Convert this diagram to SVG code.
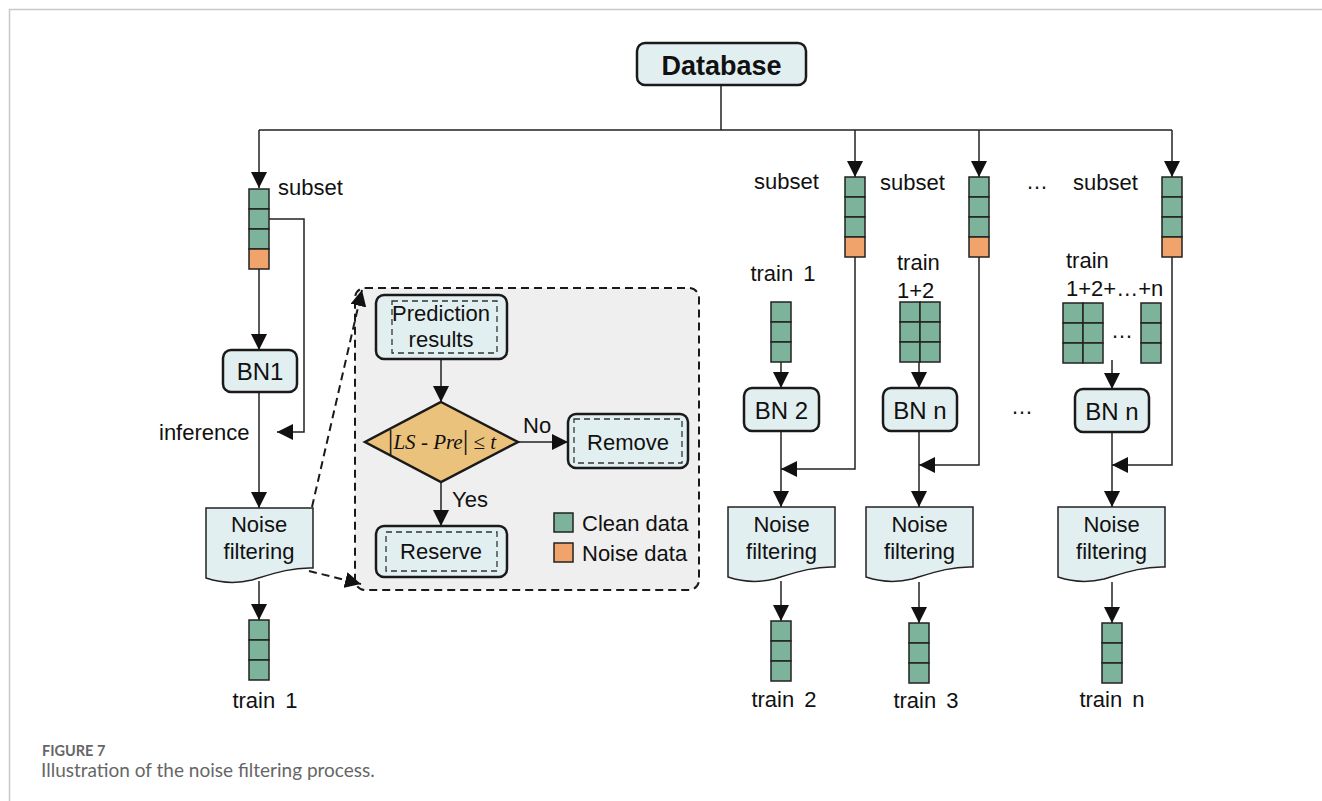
<svg xmlns="http://www.w3.org/2000/svg" width="1322" height="801" viewBox="0 0 1322 801">
  <style>
    .lbl { font-family: "Liberation Sans", Arial, sans-serif; font-size: 22px; fill: #111; }
    .big { font-size: 24px; }
    .mid { text-anchor: middle; }
    .box { fill: #e2eff0; stroke: #1a1a1a; stroke-width: 2.5; }
    .inner { fill: none; stroke: #333; stroke-width: 1.3; stroke-dasharray: 6 4; }
    .doc { fill: #e2eff0; stroke: #222; stroke-width: 1.5; }
    .cg { fill: #7db39b; stroke: #222; stroke-width: 1.5; }
    .co { fill: #f0a46c; stroke: #222; stroke-width: 1.5; }
    .wire { fill: none; stroke: #222; stroke-width: 1.5; }
    .arr { marker-end: url(#head); }
    .zoom { fill: none; stroke: #1a1a1a; stroke-width: 2; stroke-dasharray: 8 5; marker-end: url(#head); }
    .cap { font-family: Lato, "Open Sans", sans-serif; fill: #666; }
  </style>
  <defs>
    <marker id="head" viewBox="0 0 16 16" refX="16" refY="8" markerWidth="16" markerHeight="16" markerUnits="userSpaceOnUse" orient="auto">
      <path d="M0,0 L16,8 L0,16 Z" fill="#111"/>
    </marker>
    <!-- data column: three clean cells and one noisy cell -->
    <g id="stack4">
      <rect class="cg" x="0" y="0" width="20" height="20"/>
      <rect class="cg" x="0" y="20" width="20" height="20"/>
      <rect class="cg" x="0" y="40" width="20" height="20"/>
      <rect class="co" x="0" y="60" width="20" height="20"/>
    </g>
    <!-- clean training column -->
    <g id="stack3">
      <rect class="cg" x="0" y="0" width="20" height="20"/>
      <rect class="cg" x="0" y="20" width="20" height="20"/>
      <rect class="cg" x="0" y="40" width="20" height="20"/>
    </g>
    <g id="stack3x2">
      <use href="#stack3"/>
      <use href="#stack3" x="20"/>
    </g>
    <!-- document shape with a wavy bottom edge, 107 wide -->
    <path id="docshape" d="M0,0 H107 V60 C86,59 66,66 46,72 C30,76 15,75 0,70 Z"/>
  </defs>

  <rect width="1322" height="801" fill="#fff"/>
  <!-- frame -->
  <path d="M9.5,801 V9.5 H1322" fill="none" stroke="#c8c8c8" stroke-width="1.5"/>

  <!-- filtering rule panel background -->
  <g id="panel">
    <rect x="355" y="288" width="344" height="302" rx="10" fill="#efefef" stroke="#1a1a1a" stroke-width="2" stroke-dasharray="8 5"/>
  </g>

  <!-- connectors -->
  <g id="connectors">
    <path class="wire" d="M721,85 V130 M259,130 H1172"/>
    <path class="wire arr" d="M259,130 V188"/>
    <path class="wire arr" d="M855,130 V177"/>
    <path class="wire arr" d="M979,130 V177"/>
    <path class="wire arr" d="M1172,130 V177"/>
    <!-- first branch -->
    <path class="wire arr" d="M259,269 V350"/>
    <path class="wire arr" d="M269,219 H304 V432 H277"/>
    <path class="wire arr" d="M259,392 V508"/>
    <path class="wire arr" d="M259,581 V620"/>
    <path class="zoom" d="M312,507 L362,290"/>
    <path class="zoom" d="M309,571 L361,584"/>
    <!-- filtering panel -->
    <path class="wire arr" d="M441,359 V402"/>
    <path class="wire arr" d="M518,442 H568"/>
    <path class="wire arr" d="M441,482 V526"/>
    <!-- branch 2 -->
    <path class="wire arr" d="M781,362 V388"/>
    <path class="wire arr" d="M781,431 V507"/>
    <path class="wire arr" d="M855,257 V469 H781"/>
    <path class="wire arr" d="M781,581 V621"/>
    <!-- branch 3 -->
    <path class="wire arr" d="M919,362 V388"/>
    <path class="wire arr" d="M919,431 V507"/>
    <path class="wire arr" d="M979,256 V465 H919"/>
    <path class="wire arr" d="M919,582 V623"/>
    <!-- branch n -->
    <path class="wire arr" d="M1112,360 V389"/>
    <path class="wire arr" d="M1112,432 V507"/>
    <path class="wire arr" d="M1172,256 V465 H1112"/>
    <path class="wire arr" d="M1112,582 V623"/>
  </g>

  <g id="database">
    <rect class="box" x="637" y="43" width="169" height="42" rx="8"/>
    <text class="lbl mid" x="721.5" y="75" style="font-size:27px;font-weight:bold">Database</text>
  </g>

  <!-- first branch -->
  <g id="subset1">
    <use href="#stack4" x="249" y="189"/>
    <text class="lbl" x="278" y="195">subset</text>
  </g>
  <g id="bn1">
    <rect class="box" x="223" y="350" width="74" height="42" rx="8"/>
    <text class="lbl big mid" x="260" y="380">BN1</text>
  </g>
  <text class="lbl" x="159" y="440">inference</text>
  <g id="filter1">
    <use href="#docshape" x="206" y="508" class="doc"/>
    <text class="lbl mid" x="259" y="532">Noise</text>
    <text class="lbl mid" x="259" y="559">filtering</text>
  </g>
  <g id="train1">
    <use href="#stack3" x="249" y="620"/>
    <text class="lbl mid" x="265" y="708" word-spacing="4">train 1</text>
  </g>

  <!-- filtering rule -->
  <g id="prediction">
    <rect class="box" x="376" y="295" width="131" height="64" rx="8"/>
    <rect class="inner" x="392" y="301" width="105" height="52"/>
    <text class="lbl mid" x="441" y="321">Prediction</text>
    <text class="lbl mid" x="441" y="347">results</text>
  </g>
  <g id="decision">
    <polygon points="441,402 518,442 441,482 365,442" fill="#ebc27b" stroke="#1a1a1a" stroke-width="2.5"/>
    <text x="442" y="449" text-anchor="middle" font-family="'Liberation Serif', 'Times New Roman', serif" font-size="21" fill="#111"><tspan font-size="28">|</tspan><tspan font-style="italic">LS</tspan> - <tspan font-style="italic">Pre</tspan><tspan font-size="28">|</tspan> ≤ <tspan font-style="italic">t</tspan></text>
  </g>
  <text class="lbl" x="523" y="433">No</text>
  <text class="lbl" x="452" y="507">Yes</text>
  <g id="remove">
    <rect class="box" x="568" y="414" width="120" height="54" rx="8"/>
    <rect class="inner" x="574" y="419" width="108" height="44"/>
    <text class="lbl mid" x="628" y="450">Remove</text>
  </g>
  <g id="reserve">
    <rect class="box" x="376" y="526" width="131" height="51" rx="8"/>
    <rect class="inner" x="386" y="532" width="111" height="39"/>
    <text class="lbl mid" x="441" y="559">Reserve</text>
  </g>
  <g id="legend">
    <rect class="cg" x="554" y="513" width="19" height="19"/>
    <text class="lbl" x="582" y="531">Clean data</text>
    <rect class="co" x="554" y="543" width="19" height="19"/>
    <text class="lbl" x="582" y="561">Noise data</text>
  </g>

  <!-- branch 2 -->
  <g id="subset2">
    <use href="#stack4" x="845" y="177"/>
    <text class="lbl" x="754" y="189">subset</text>
  </g>
  <g id="input2">
    <text class="lbl mid" x="783" y="281" word-spacing="4">train 1</text>
    <use href="#stack3" x="771" y="302"/>
  </g>
  <g id="bn2">
    <rect class="box" x="744" y="388" width="75" height="43" rx="8"/>
    <text class="lbl big mid" x="781.5" y="419">BN 2</text>
  </g>
  <g id="filter2">
    <use href="#docshape" x="728" y="507" class="doc"/>
    <text class="lbl mid" x="781.5" y="532">Noise</text>
    <text class="lbl mid" x="781.5" y="559">filtering</text>
  </g>
  <g id="train2">
    <use href="#stack3" x="771" y="621"/>
    <text class="lbl mid" x="784" y="707" word-spacing="4">train 2</text>
  </g>

  <!-- branch 3 -->
  <g id="subset3">
    <use href="#stack4" x="969" y="177"/>
    <text class="lbl" x="880" y="190">subset</text>
  </g>
  <g id="input3">
    <text class="lbl" x="897" y="270">train</text>
    <text class="lbl" x="897" y="298">1+2</text>
    <use href="#stack3x2" x="900" y="302"/>
  </g>
  <g id="bn3">
    <rect class="box" x="883" y="388" width="74" height="43" rx="8"/>
    <text class="lbl big mid" x="920" y="419">BN n</text>
  </g>
  <g id="filter3">
    <use href="#docshape" x="866" y="507" class="doc"/>
    <text class="lbl mid" x="919.5" y="532">Noise</text>
    <text class="lbl mid" x="919.5" y="559">filtering</text>
  </g>
  <g id="train3">
    <use href="#stack3" x="909" y="623"/>
    <text class="lbl mid" x="926" y="708" word-spacing="4">train 3</text>
  </g>

  <text class="lbl" x="1026" y="189">…</text>
  <text class="lbl" x="1011" y="414">…</text>

  <!-- branch n -->
  <g id="subsetn">
    <use href="#stack4" x="1162" y="177"/>
    <text class="lbl" x="1073" y="190">subset</text>
  </g>
  <g id="inputn">
    <text class="lbl" x="1066" y="268">train</text>
    <text class="lbl" x="1066" y="296">1+2+…+n</text>
    <use href="#stack3x2" x="1063" y="303"/>
    <text class="lbl" x="1111" y="338">…</text>
    <use href="#stack3" x="1141" y="303"/>
  </g>
  <g id="bnn">
    <rect class="box" x="1075" y="389" width="74" height="43" rx="8"/>
    <text class="lbl big mid" x="1112" y="420">BN n</text>
  </g>
  <g id="filtern">
    <use href="#docshape" x="1058" y="507" class="doc"/>
    <text class="lbl mid" x="1111.5" y="532">Noise</text>
    <text class="lbl mid" x="1111.5" y="559">filtering</text>
  </g>
  <g id="trainn">
    <use href="#stack3" x="1102" y="623"/>
    <text class="lbl mid" x="1112" y="707" word-spacing="4">train n</text>
  </g>

  <!-- caption -->
  <text class="cap" x="42" y="756" font-size="14.5" font-weight="bold">FIGURE 7</text>
  <text class="cap" x="41" y="777" font-size="19" fill="#555">Illustration of the noise filtering process.</text>
</svg>
